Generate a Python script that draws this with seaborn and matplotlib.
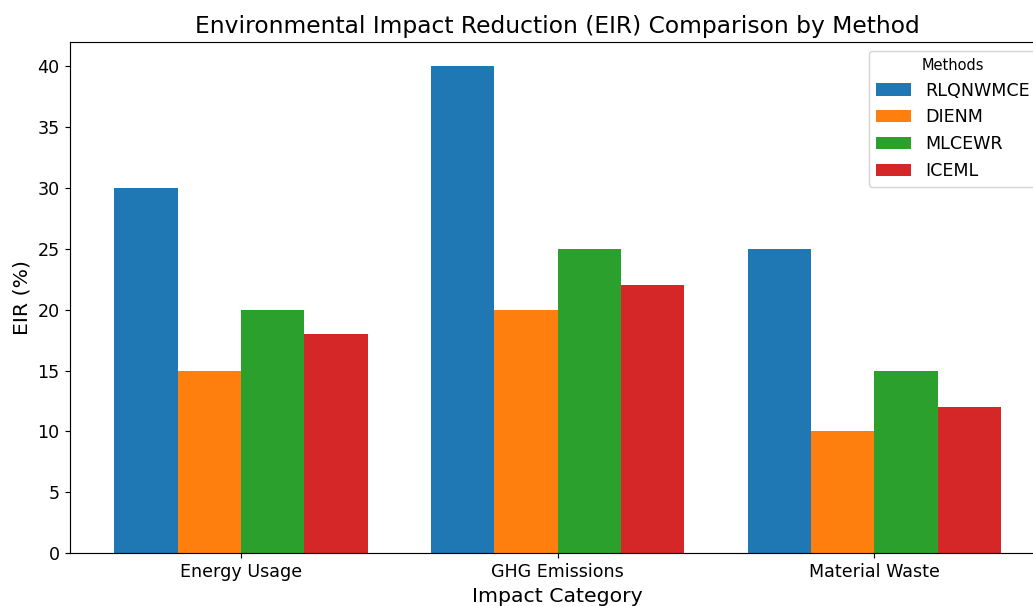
import pandas as pd
import matplotlib
matplotlib.use("Agg")
import matplotlib.pyplot as plt
import seaborn as sns

# values
categories = ["Energy Usage", "GHG Emissions", "Material Waste"]
methods = ["RLQNWMCE", "DIENM", "MLCEWR", "ICEML"]
rlqnwmce = [30, 40, 25]
dienm = [15, 20, 10]
mlcewr = [20, 25, 15]
iceml = [18, 22, 12]

rows = []
for name, vals in zip(methods, [rlqnwmce, dienm, mlcewr, iceml]):
    for cat, v in zip(categories, vals):
        rows.append({"Impact Category": cat, "Method": name, "EIR": v})
df = pd.DataFrame(rows)

plt.rcParams["font.family"] = ["DejaVu Sans"]

# reference looks rendered at a slightly higher dpi, so text is a bit larger
dpi = 105
fig = plt.figure(figsize=(1033 / dpi, 606 / dpi), dpi=dpi)
# the reference is a crop: the axes run past the right edge of the picture
ax = fig.add_axes([0.0678, 0.0875, 0.944, 0.843])

sns.barplot(data=df, x="Impact Category", y="EIR", hue="Method",
            hue_order=methods, order=categories,
            palette=["#1f77b4", "#ff7f0e", "#2ca02c", "#d62728"],
            saturation=1, width=0.8, linewidth=0, ax=ax)

ax.set_xlim(-0.54, 2.54)
ax.set_ylim(0, 42)
ax.set_title("Environmental Impact Reduction (EIR) Comparison by Method", fontsize=16)
ax.set_xlabel("Impact Category", fontsize=14)
ax.set_ylabel("EIR (%)", fontsize=14)
ax.tick_params(axis="both", labelsize=12)
ax.legend(title="Methods", fontsize=12, title_fontsize=10, loc="upper right")

fig.savefig("out.png", dpi=dpi)
